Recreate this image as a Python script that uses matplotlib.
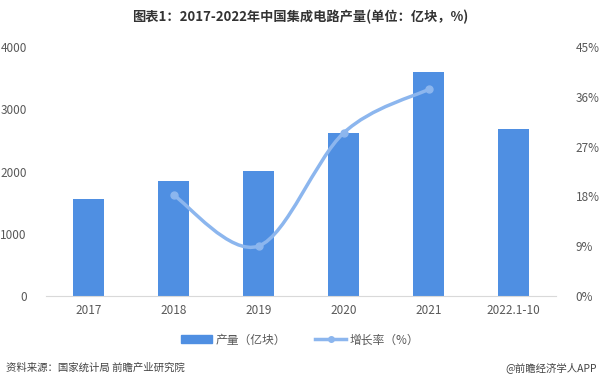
import matplotlib
matplotlib.use("Agg")
import matplotlib.pyplot as plt
from matplotlib.path import Path
from matplotlib.patches import PathPatch
from matplotlib.lines import Line2D
from matplotlib.patches import Patch
import numpy as np

plt.rcParams['font.family'] = ['Noto Sans CJK SC', 'DejaVu Sans']

years = ["2017", "2018", "2019", "2020", "2021", "2022.1-10"]
output = [1560, 1850, 2010, 2615, 3595, 2680]   # 亿块
growth_idx = [1, 2, 3, 4]
growth = [18.2, 9.0, 29.5, 37.4]                 # %

bar_color = "#4f8fe2"
line_color = "#8cb6ee"

fig = plt.figure(figsize=(6, 3.85), dpi=100)
ax = fig.add_axes([0.077, 0.232, 0.85, 0.645])
ax2 = ax.twinx()

x = np.arange(len(years))
ax.bar(x, output, width=0.36, color=bar_color, zorder=2)
ax.set_ylim(0, 4000)
ax.set_yticks(range(0, 4001, 1000))
ax.set_xlim(-0.5, len(years) - 0.5)
ax.set_xticks(x)
ax.set_xticklabels(years)

ax2.set_ylim(0, 45)
ax2.set_yticks(range(0, 46, 9))
ax2.set_yticklabels([f"{v}%" for v in range(0, 46, 9)])

# smooth curve through the growth points (Catmull-Rom -> cubic Bezier)
px = np.array([x[i] for i in growth_idx], dtype=float)
py = np.array(growth, dtype=float)
verts = [(px[0], py[0])]
codes = [Path.MOVETO]
for i in range(len(px) - 1):
    p0 = (px[i - 1], py[i - 1]) if i > 0 else (px[i], py[i])
    p3 = (px[i + 2], py[i + 2]) if i + 2 < len(px) else (px[i + 1], py[i + 1])
    c1 = (px[i] + (px[i + 1] - p0[0]) / 6, py[i] + (py[i + 1] - p0[1]) / 6)
    c2 = (px[i + 1] - (p3[0] - px[i]) / 6, py[i + 1] - (p3[1] - py[i]) / 6)
    verts += [c1, c2, (px[i + 1], py[i + 1])]
    codes += [Path.CURVE4] * 3
ax2.add_patch(PathPatch(Path(verts, codes), facecolor="none",
                        edgecolor=line_color, lw=2.5, zorder=3))
ax2.plot(px, py, "o", color=line_color, ms=5, zorder=4)

for a in (ax, ax2):
    for s in a.spines.values():
        s.set_visible(False)
    a.tick_params(length=0, labelsize=8.5, colors="#595959")
ax.spines['bottom'].set_visible(True)
ax.spines['bottom'].set_color("#d9d9d9")
ax.tick_params(axis='x', pad=6)
ax.tick_params(axis='y', pad=14)
ax2.tick_params(axis='y', pad=14)

fig.text(0.5, 0.955, "图表1：2017-2022年中国集成电路产量(单位：亿块，%)",
         ha="center", va="center", fontsize=9.5, fontweight="bold", color="#333333")

handles = [Patch(color=bar_color), Line2D([], [], color=line_color, lw=2.5, marker="o", ms=4)]
fig.legend(handles, ["产量（亿块）", "增长率（%）"], loc="center", bbox_to_anchor=(0.5, 0.117),
           ncol=2, frameon=False, fontsize=8.5, handlelength=2.6, columnspacing=2.5,
           labelcolor="#595959", handletextpad=0.3)

fig.text(0.01, 0.045, "资料来源：国家统计局 前瞻产业研究院", fontsize=7.5, color="#444444", va="center")
fig.text(0.995, 0.045, "@前瞻经济学人APP", fontsize=7.5, color="#444444", va="center", ha="right")

fig.savefig("out.png", dpi=100)
